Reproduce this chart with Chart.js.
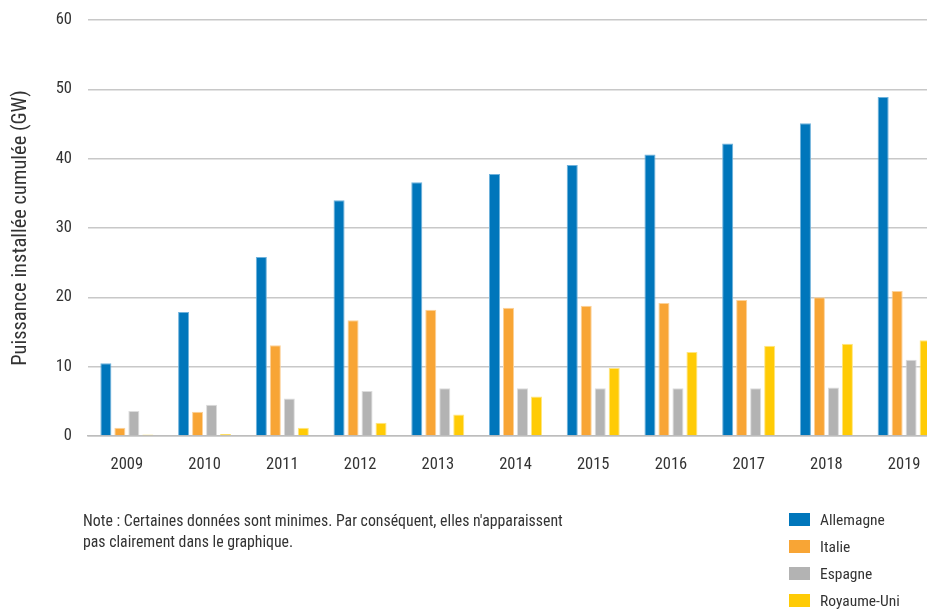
<!DOCTYPE html>
<html lang="fr">
<head>
<meta charset="utf-8">
<script src="https://cdn.jsdelivr.net/npm/chart.js@4.4.0/dist/chart.umd.min.js"></script>
<style>
  body { margin: 0; width: 927px; height: 611px; overflow: hidden; background: #fff; font-family: Roboto, sans-serif; color: #333; }
  #wrap { position: absolute; left: 0; top: 0; width: 945px; height: 611px; }
  #note { position: absolute; left: 83px; top: 510px; font-size: 15.8px; line-height: 21px; font-stretch: condensed; }
  #legend { position: absolute; left: 789px; top: 506px; font-size: 15.5px; font-stretch: condensed; }
  #legend div { height: 27px; display: flex; align-items: center; }
  #legend span.box { display: inline-block; width: 21px; height: 13px; margin-right: 10px; }
</style>
</head>
<body>
<div id="wrap"><canvas id="myChart" width="945" height="611"></canvas></div>
<div id="note">Note : Certaines données sont minimes. Par conséquent, elles n'apparaissent<br>pas clairement dans le graphique.</div>
<div id="legend"></div>
<script>
const years = ['2009', '2010', '2011', '2012', '2013', '2014', '2015', '2016', '2017', '2018', '2019'];
const allemagne = [10.5, 17.9, 25.8, 34.0, 36.6, 37.8, 39.1, 40.6, 42.2, 45.1, 48.9];
const italie = [1.2, 3.5, 13.1, 16.7, 18.2, 18.5, 18.8, 19.2, 19.6, 20.0, 20.9];
const espagne = [3.6, 4.5, 5.4, 6.5, 6.9, 6.9, 6.9, 6.9, 6.9, 7.0, 11.0];
const royaumeUni = [0.2, 0.3, 1.2, 1.9, 3.1, 5.7, 9.8, 12.1, 13.0, 13.3, 13.8];
const yTicks = [0, 10, 20, 30, 40, 50, 60];

const series = [
    { label: 'Allemagne', data: allemagne, color: '#0076bb', edge: '#6fb2dc' },
    { label: 'Italie', data: italie, color: '#f8a535', edge: '#fcd29a' },
    { label: 'Espagne', data: espagne, color: '#b3b3b3', edge: '#dcdcdc' },
    { label: 'Royaume-Uni', data: royaumeUni, color: '#ffcb05', edge: '#ffe680' }
];

Chart.defaults.font.family = 'Roboto';
Chart.defaults.color = '#333';

const ctx = document.getElementById('myChart').getContext('2d');
const myChart = new Chart(ctx, {
    type: 'bar',
    data: {
        labels: years,
        datasets: series.map(s => ({
            label: s.label,
            data: s.data,
            backgroundColor: s.color,
            borderColor: s.edge,
            borderWidth: 1,
            categoryPercentage: 0.72,
            barPercentage: 0.79
        }))
    },
    options: {
        responsive: false,
        animation: false,
        layout: { padding: { top: 20, right: 2, bottom: 135, left: 0 } },
        plugins: { legend: { display: false }, tooltip: { enabled: false } },
        scales: {
            x: {
                grid: { display: false },
                border: { color: '#bdbdbd', width: 1.5 },
                ticks: { padding: 11, font: { size: 16.5, weight: 'normal condensed' } },
                afterFit: s => { s.height = 40; s.paddingLeft = 0; s.paddingRight = 0; }
            },
            y: {
                min: 0,
                max: 60,
                afterBuildTicks: s => { s.ticks = yTicks.map(v => ({ value: v })); },
                grid: { color: '#c8c8c8', lineWidth: 1.5, drawTicks: false },
                border: { display: false },
                ticks: { padding: 16, font: { size: 16.5, weight: 'normal condensed' } },
                title: {
                    display: true,
                    text: 'Puissance installée cumulée (GW)',
                    padding: { top: 9, bottom: 0 },
                    font: { size: 20.5, weight: 'normal condensed' }
                },
                afterFit: s => { s.width = 88; s.paddingTop = 0; s.paddingBottom = 0; }
            }
        }
    }
});

const legend = document.getElementById('legend');
series.forEach(s => {
    const row = document.createElement('div');
    row.innerHTML = '<span class="box" style="background:' + s.color + '"></span>' + s.label;
    legend.appendChild(row);
});
</script>
</body>
</html>
